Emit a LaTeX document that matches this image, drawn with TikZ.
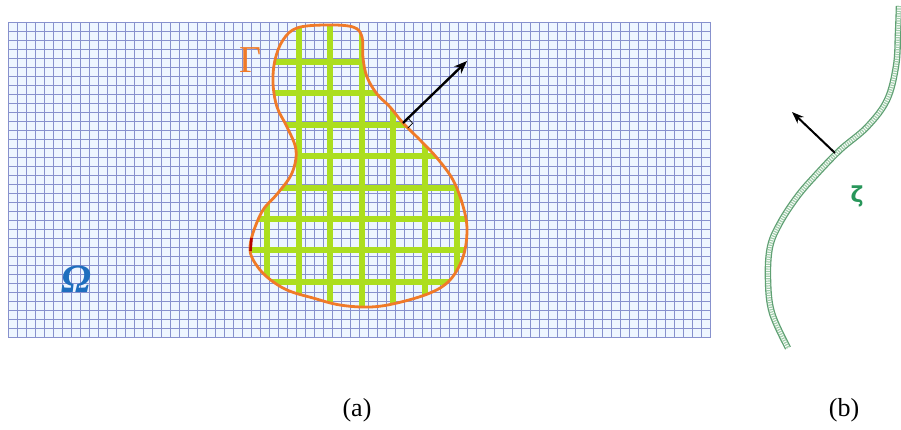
\documentclass[tikz,border=0pt]{standalone}
\usepackage{fontspec}
\setmainfont{Liberation Serif}
\newfontfamily\dejasans{DejaVu Sans}
\usetikzlibrary{arrows.meta}
\definecolor{gridbg}{RGB}{238,246,255}
\definecolor{gridln}{RGB}{135,145,205}
\definecolor{lime}{RGB}{172,222,30}
\definecolor{bord}{RGB}{240,122,40}
\definecolor{omegablue}{RGB}{30,110,190}
\definecolor{zgreen}{RGB}{40,150,90}
\definecolor{curveout}{RGB}{95,160,115}
\definecolor{curvein}{RGB}{160,205,170}
\tikzset{
  finegrid/.style={gridln, line width=1.2pt},
  coarsegrid/.style={lime, line width=6pt},
  boundary/.style={bord, line width=2.8pt, line join=round},
  normalarrow/.style={black, line width=2.4pt, -{Stealth[length=13pt,width=10pt]}},
  lbl/.style={inner sep=0pt, font=\fontsize{26}{28}\selectfont}
}
\begin{document}
\begin{tikzpicture}[x=1pt,y=-1pt]
\useasboundingbox (0,0) rectangle (901,430);
% fine grid
\fill[gridbg] (8,22) rectangle (711,338);
\foreach \i in {0,...,78} \draw[finegrid] ({8.5+9*\i},22) -- ({8.5+9*\i},338);
\foreach \j in {0,...,35} \draw[finegrid] (8,{22.5+9*\j}) -- (711,{22.5+9*\j});
% coarse green grid inside the region
\def\regionpath{plot[smooth cycle, tension=0.6] coordinates {(297,28) (325,25) (353,27) (362,37) (363,58) (367,77) (377,94) (390,107) (403,123) (420,140) (437,158) (453,180) (463,206) (467,230) (463,257) (450,280) (430,293) (397,303) (370,307) (340,305) (313,298) (287,290) (267,277) (255,263) (250,250) (253,233) (263,210) (278,193) (292,173) (296,150) (287,127) (277,107) (273,83) (275,60) (283,40)}}
\begin{scope}
\clip \regionpath;
\foreach \i in {0,...,6} \draw[coarsegrid] ({267+31.6*\i},15) -- ({267+31.6*\i},320);
\foreach \j in {0,...,7} \draw[coarsegrid] (240,{62+31.4*\j}) -- (480,{62+31.4*\j});
\end{scope}
\draw[boundary] \regionpath;
\draw[red!70!black, line width=2.6pt] (251.5,238) -- (250.5,251);
% normal arrow (a)
\coordinate (na) at (403,123);
\coordinate (nb) at (467,61);
\draw[normalarrow] (na) -- (nb);
\draw[black, line width=0.7pt] (407.7,128.2) -- (412.7,123.3) -- (408,118.1);
% labels (a)
\node[lbl, text=bord, font=\fontsize{38}{40}\selectfont] (gamma) at (250,60) {Γ};
\node[lbl, text=omegablue, font=\fontsize{40}{42}\selectfont\bfseries\itshape] (omega) at (76,279) {Ω};
\node[lbl] (capa) at (357,410) {(a)};
% panel (b)
\def\curvepath{plot[smooth, tension=0.6] coordinates {(899,6) (898,33) (896,66) (887,100) (867,127) (840,150) (815,176) (797,197) (780,223) (770,247) (768,280) (772,313) (788,348)}}
\draw[curveout, line width=6.5pt] \curvepath;
\draw[white, line width=3.8pt] \curvepath;
\draw[curvein, line width=3.8pt, dash pattern=on 1.2pt off 1.2pt] \curvepath;
\coordinate (ma) at (835,153);
\coordinate (mb) at (792,112);
\draw[normalarrow, line width=2pt, -{Stealth[length=12pt,width=9pt]}] (ma) -- (mb);
\node[lbl, text=zgreen, font=\dejasans\bfseries\fontsize{22}{24}\selectfont] (zeta) at (857,196) {ζ};
\node[lbl] (capb) at (844,410) {(b)};
\end{tikzpicture}
\end{document}
